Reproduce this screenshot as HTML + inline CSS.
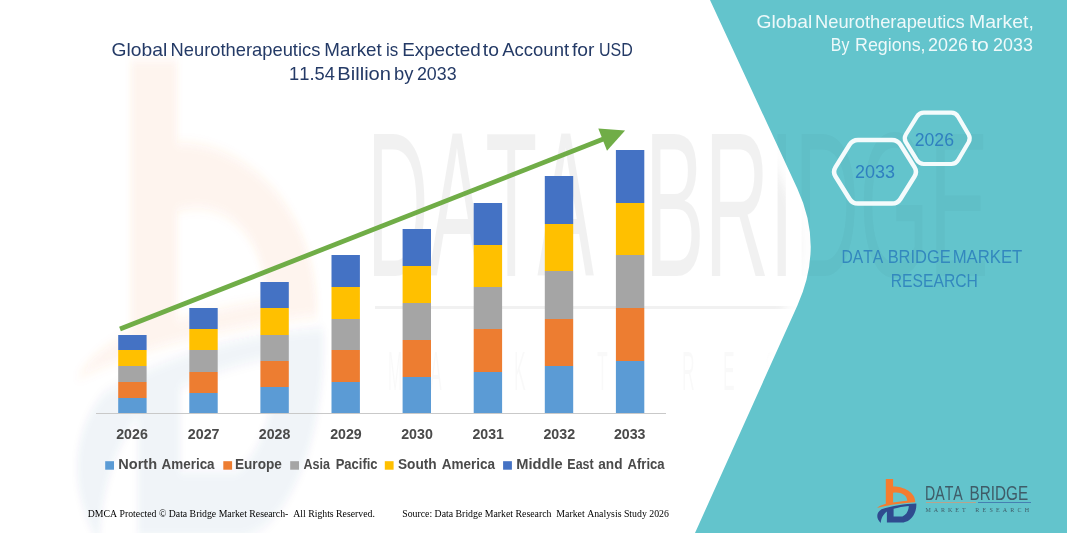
<!DOCTYPE html>
<html lang="en">
<head>
<meta charset="utf-8">
<title>Global Neurotherapeutics Market</title>
<style>
  html,body{margin:0;padding:0;background:#fff;}
  body{width:1067px;height:533px;overflow:hidden;position:relative;font-family:"Liberation Sans",sans-serif;}
  svg{position:absolute;left:0;top:0;display:block;}
  text{font-kerning:none;}
  .t{font-family:"Liberation Sans",sans-serif;}
  .b{font-family:"Liberation Sans",sans-serif;font-weight:bold;}
  .s{font-family:"Liberation Serif",serif;}
</style>
</head>
<body>
<svg width="1067" height="533" viewBox="0 0 1067 533">
  <defs>
            <clipPath id="tealclip"><path d="M710,0 L1067,0 L1067,533 L695,533 L797.4,305.4 Q824,246.3 797.4,188.8 Z"/></clipPath>
    <filter id="glow" x="-30%" y="-10%" width="160%" height="120%"><feGaussianBlur stdDeviation="5"/></filter>
    <filter id="blur" x="-10%" y="-10%" width="120%" height="120%"><feGaussianBlur stdDeviation="0.5"/></filter>
  </defs>

  <rect width="1067" height="533" fill="#ffffff"/>

  <!-- faint watermark logo (left) -->
  <g transform="translate(-5449.5,-5209) scale(6.3,11)" filter="url(#blur)">
    <path d="M885.8,479 L893.1,479 L893.1,486.5 C903,486.3 915.5,492 915.3,502.3 C905,503 890,504.5 877,508 C880,505.5 883,504.6 885.8,503.8 Z M893.1,492.8 L893.1,502.6 C898,501.8 903,501.2 907.3,500.8 C907,494.5 900,491.5 893.1,492.8 Z" fill-rule="evenodd" fill="#F47C30" opacity="0.085"/>
    <path d="M916.3,503.4 C917,513 911,521.5 903.5,522.4 L886.9,522.4 L886.9,511.5 C883.5,514 881,518 880.8,523 C875.5,518 876.5,512.5 881.5,509.3 C892,505.5 905,503.8 916.3,503.4 Z M893.6,508.8 L893.6,516.4 L902.4,516.4 C906.5,515 908.6,510.5 908.8,506 C903.5,506.5 898,507.5 893.6,508.8 Z" fill-rule="evenodd" fill="#2F4B8F" opacity="0.06"/>
  </g>

  <!-- faint watermark text (under teal) -->
  <g opacity="0.05" fill="#000">
    <text class="t" x="367.01" y="275.5" font-size="206" textLength="227.15" lengthAdjust="spacingAndGlyphs">DATA</text>
    <text class="t" x="644.64" y="275.5" font-size="206" textLength="344.22" lengthAdjust="spacingAndGlyphs">BRIDGE</text>
    <rect x="375" y="306" width="610" height="3"/>
  </g>
  <g opacity="0.02" fill="#000">
    <text class="t" transform="scale(0.32,1)" x="1212 1344 1475 1606 1738 1866 2000 2131 2259 2391 2519 2650 2781 2909 3041" y="390" font-size="55">MARKET RESEARCH</text>
  </g>

  <!-- soft white glow along teal edge -->
  <path d="M710,0 L797.4,188.8 Q824,246.3 797.4,305.4 L695,533" fill="none" stroke="#fff" stroke-width="22" filter="url(#glow)" opacity="0.9"/>

  <!-- teal panel -->
  <path id="teal" d="M710,0 L1067,0 L1067,533 L695,533 L797.4,305.4 Q824,246.3 797.4,188.8 Z" fill="#63C4CC"/>
  <g opacity="0.022" fill="#000" clip-path="url(#tealclip)">
    <text class="t" x="644.64" y="275.5" font-size="206" textLength="344.22" lengthAdjust="spacingAndGlyphs">BRIDGE</text>
  </g>

  <!-- title -->
  <g fill="#243A66">
    <text class="t" x="111.53" y="56.2" font-size="18.4" textLength="55.66" lengthAdjust="spacingAndGlyphs">Global</text>
    <text class="t" x="170.6" y="56.2" font-size="18.4" textLength="149.77" lengthAdjust="spacingAndGlyphs">Neurotherapeutics</text>
    <text class="t" x="324.36" y="56.2" font-size="18.4" textLength="57.38" lengthAdjust="spacingAndGlyphs">Market</text>
    <text class="t" x="386.07" y="56.2" font-size="18.4" textLength="12.25" lengthAdjust="spacingAndGlyphs">is</text>
    <text class="t" x="402.15" y="56.2" font-size="18.4" textLength="78.56" lengthAdjust="spacingAndGlyphs">Expected</text>
    <text class="t" x="482.81" y="56.2" font-size="18.4" textLength="16.1" lengthAdjust="spacingAndGlyphs">to</text>
    <text class="t" x="502.16" y="56.2" font-size="18.4" textLength="66.97" lengthAdjust="spacingAndGlyphs">Account</text>
    <text class="t" x="571.93" y="56.2" font-size="18.4" textLength="22.49" lengthAdjust="spacingAndGlyphs">for</text>
    <text class="t" x="599.06" y="56.2" font-size="18.4" textLength="33.8" lengthAdjust="spacingAndGlyphs">USD</text>
    <text class="t" x="289.1" y="79.9" font-size="18.4" textLength="45.83" lengthAdjust="spacingAndGlyphs">11.54</text>
    <text class="t" x="337.35" y="79.9" font-size="18.4" textLength="53.66" lengthAdjust="spacingAndGlyphs">Billion</text>
    <text class="t" x="394.11" y="79.9" font-size="18.4" textLength="19.42" lengthAdjust="spacingAndGlyphs">by</text>
    <text class="t" x="416.9" y="79.9" font-size="18.4" textLength="39.68" lengthAdjust="spacingAndGlyphs">2033</text>
  </g>

  <!-- axis line -->
  <rect x="96" y="413" width="570" height="1" fill="#C9C9C9"/>

  <!-- bars -->
  <g>
    <rect x="118.2" y="335" width="28.4" height="15" fill="#4472C4"/>
    <rect x="118.2" y="350" width="28.4" height="16" fill="#FFC000"/>
    <rect x="118.2" y="366" width="28.4" height="16" fill="#A5A5A5"/>
    <rect x="118.2" y="382" width="28.4" height="16" fill="#ED7D31"/>
    <rect x="118.2" y="398" width="28.4" height="15" fill="#5B9BD5"/>
    <rect x="189.3" y="308" width="28.4" height="21" fill="#4472C4"/>
    <rect x="189.3" y="329" width="28.4" height="21" fill="#FFC000"/>
    <rect x="189.3" y="350" width="28.4" height="22" fill="#A5A5A5"/>
    <rect x="189.3" y="372" width="28.4" height="21" fill="#ED7D31"/>
    <rect x="189.3" y="393" width="28.4" height="20" fill="#5B9BD5"/>
    <rect x="260.4" y="282" width="28.4" height="26" fill="#4472C4"/>
    <rect x="260.4" y="308" width="28.4" height="27" fill="#FFC000"/>
    <rect x="260.4" y="335" width="28.4" height="26" fill="#A5A5A5"/>
    <rect x="260.4" y="361" width="28.4" height="26" fill="#ED7D31"/>
    <rect x="260.4" y="387" width="28.4" height="26" fill="#5B9BD5"/>
    <rect x="331.5" y="255" width="28.4" height="32" fill="#4472C4"/>
    <rect x="331.5" y="287" width="28.4" height="32" fill="#FFC000"/>
    <rect x="331.5" y="319" width="28.4" height="31" fill="#A5A5A5"/>
    <rect x="331.5" y="350" width="28.4" height="32" fill="#ED7D31"/>
    <rect x="331.5" y="382" width="28.4" height="31" fill="#5B9BD5"/>
    <rect x="402.6" y="229" width="28.4" height="37" fill="#4472C4"/>
    <rect x="402.6" y="266" width="28.4" height="37" fill="#FFC000"/>
    <rect x="402.6" y="303" width="28.4" height="37" fill="#A5A5A5"/>
    <rect x="402.6" y="340" width="28.4" height="37" fill="#ED7D31"/>
    <rect x="402.6" y="377" width="28.4" height="36" fill="#5B9BD5"/>
    <rect x="473.7" y="203" width="28.4" height="42" fill="#4472C4"/>
    <rect x="473.7" y="245" width="28.4" height="42" fill="#FFC000"/>
    <rect x="473.7" y="287" width="28.4" height="42" fill="#A5A5A5"/>
    <rect x="473.7" y="329" width="28.4" height="43" fill="#ED7D31"/>
    <rect x="473.7" y="372" width="28.4" height="41" fill="#5B9BD5"/>
    <rect x="544.8" y="176" width="28.4" height="48" fill="#4472C4"/>
    <rect x="544.8" y="224" width="28.4" height="47" fill="#FFC000"/>
    <rect x="544.8" y="271" width="28.4" height="48" fill="#A5A5A5"/>
    <rect x="544.8" y="319" width="28.4" height="47" fill="#ED7D31"/>
    <rect x="544.8" y="366" width="28.4" height="47" fill="#5B9BD5"/>
    <rect x="615.9" y="150" width="28.4" height="53" fill="#4472C4"/>
    <rect x="615.9" y="203" width="28.4" height="52" fill="#FFC000"/>
    <rect x="615.9" y="255" width="28.4" height="53" fill="#A5A5A5"/>
    <rect x="615.9" y="308" width="28.4" height="53" fill="#ED7D31"/>
    <rect x="615.9" y="361" width="28.4" height="52" fill="#5B9BD5"/>
  </g>

  <!-- trend arrow -->
  <line x1="120" y1="329" x2="604" y2="138.8" stroke="#70AD47" stroke-width="4.8"/>
  <polygon points="625.1,130.5 598.3,128.4 607,150.7" fill="#70AD47"/>

  <!-- x labels -->
  <g fill="#4A4A4A">
    <text class="b" x="116.21" y="439.0" font-size="14.8" textLength="31.61" lengthAdjust="spacingAndGlyphs">2026</text>
    <text class="b" x="187.81" y="439.0" font-size="14.8" textLength="31.72" lengthAdjust="spacingAndGlyphs">2027</text>
    <text class="b" x="258.86" y="439.0" font-size="14.8" textLength="31.53" lengthAdjust="spacingAndGlyphs">2028</text>
    <text class="b" x="330.16" y="439.0" font-size="14.8" textLength="31.62" lengthAdjust="spacingAndGlyphs">2029</text>
    <text class="b" x="401.16" y="439.0" font-size="14.8" textLength="31.68" lengthAdjust="spacingAndGlyphs">2030</text>
    <text class="b" x="472.46" y="439.0" font-size="14.8" textLength="31.48" lengthAdjust="spacingAndGlyphs">2031</text>
    <text class="b" x="543.46" y="439.0" font-size="14.8" textLength="31.66" lengthAdjust="spacingAndGlyphs">2032</text>
    <text class="b" x="613.91" y="439.0" font-size="14.8" textLength="31.61" lengthAdjust="spacingAndGlyphs">2033</text>
  </g>

  <!-- legend -->
  <g fill="#4A4A4A">
    <rect x="105.2" y="461.2" width="8.8" height="8.5" fill="#5B9BD5"/>
    <rect x="223.3" y="461.2" width="8.8" height="8.5" fill="#ED7D31"/>
    <rect x="290.2" y="461.2" width="8.8" height="8.5" fill="#A5A5A5"/>
    <rect x="384.8" y="461.2" width="8.8" height="8.5" fill="#FFC000"/>
    <rect x="503.1" y="461.2" width="8.8" height="8.5" fill="#4472C4"/>
    <text class="b" x="118.33" y="468.8" font-size="13.8" textLength="38.77" lengthAdjust="spacingAndGlyphs">North</text>
    <text class="b" x="161.57" y="468.8" font-size="13.8" textLength="53.05" lengthAdjust="spacingAndGlyphs">America</text>
    <text class="b" x="234.99" y="468.8" font-size="13.8" textLength="46.88" lengthAdjust="spacingAndGlyphs">Europe</text>
    <text class="b" x="303.39" y="468.8" font-size="13.8" textLength="26.53" lengthAdjust="spacingAndGlyphs">Asia</text>
    <text class="b" x="335.63" y="468.8" font-size="13.8" textLength="41.95" lengthAdjust="spacingAndGlyphs">Pacific</text>
    <text class="b" x="398.01" y="468.8" font-size="13.8" textLength="38.74" lengthAdjust="spacingAndGlyphs">South</text>
    <text class="b" x="441.76" y="468.8" font-size="13.8" textLength="53.35" lengthAdjust="spacingAndGlyphs">America</text>
    <text class="b" x="516.22" y="468.8" font-size="13.8" textLength="46.48" lengthAdjust="spacingAndGlyphs">Middle</text>
    <text class="b" x="567.37" y="468.8" font-size="13.8" textLength="26.28" lengthAdjust="spacingAndGlyphs">East</text>
    <text class="b" x="598.3" y="468.8" font-size="13.8" textLength="24.2" lengthAdjust="spacingAndGlyphs">and</text>
    <text class="b" x="627.47" y="468.8" font-size="13.8" textLength="37.14" lengthAdjust="spacingAndGlyphs">Africa</text>
  </g>

  <!-- footer -->
  <g class="s" font-size="10" fill="#000">
    <text x="87.8" y="517.4" textLength="287.1" lengthAdjust="spacingAndGlyphs" xml:space="preserve">DMCA Protected © Data Bridge Market Research-  All Rights Reserved.</text>
    <text x="402.2" y="517.4" textLength="266.7" lengthAdjust="spacingAndGlyphs" xml:space="preserve">Source: Data Bridge Market Research  Market Analysis Study 2026</text>
  </g>

  <!-- right panel heading -->
  <g fill="#EEF9FA">
    <text class="t" x="756.53" y="27.5" font-size="18.4" textLength="55.66" lengthAdjust="spacingAndGlyphs">Global</text>
    <text class="t" x="815.0" y="27.5" font-size="18.4" textLength="149.66" lengthAdjust="spacingAndGlyphs">Neurotherapeutics</text>
    <text class="t" x="969.0" y="27.5" font-size="18.4" textLength="64.84" lengthAdjust="spacingAndGlyphs">Market,</text>
    <text class="t" x="830.8" y="51.0" font-size="18.4" textLength="18.53" lengthAdjust="spacingAndGlyphs">By</text>
    <text class="t" x="855.03" y="51.0" font-size="18.4" textLength="70.57" lengthAdjust="spacingAndGlyphs">Regions,</text>
    <text class="t" x="928.1" y="51.0" font-size="18.4" textLength="39.89" lengthAdjust="spacingAndGlyphs">2026</text>
    <text class="t" x="971.18" y="51.0" font-size="18.4" textLength="17.71" lengthAdjust="spacingAndGlyphs">to</text>
    <text class="t" x="993.1" y="51.0" font-size="18.4" textLength="39.79" lengthAdjust="spacingAndGlyphs">2033</text>
  </g>

  <!-- hexagons -->
  <g fill="none" stroke="#F4FBFC" stroke-width="4.2" stroke-linejoin="round">
    <path d="M835.52,176.46 Q832.60,171.80 835.52,167.14 L849.58,144.66 Q852.50,140.00 858.00,140.00 L892.00,140.00 Q897.50,140.00 900.42,144.66 L914.48,167.14 Q917.40,171.80 914.48,176.46 L900.42,198.94 Q897.50,203.60 892.00,203.60 L858.00,203.60 Q852.50,203.60 849.58,198.94 Z" stroke-width="4.5"/>
    <path d="M905.86,142.18 Q903.50,138.35 905.86,134.52 L916.94,116.53 Q919.30,112.70 923.80,112.70 L951.30,112.70 Q955.80,112.70 958.08,116.58 L968.62,134.47 Q970.90,138.35 968.62,142.23 L958.08,160.12 Q955.80,164.00 951.30,164.00 L923.80,164.00 Q919.30,164.00 916.94,160.17 Z"/>
  </g>
  <g fill="#2F80C0">
    <text class="t" x="855.1" y="177.6" font-size="18.4" textLength="39.99" lengthAdjust="spacingAndGlyphs">2033</text>
    <text class="t" x="914.71" y="145.7" font-size="18.4" textLength="39.26" lengthAdjust="spacingAndGlyphs">2026</text>
  </g>

  <!-- DBMR label -->
  <g fill="#3388BE">
    <text class="t" x="841.52" y="262.6" font-size="18.4" textLength="41.61" lengthAdjust="spacingAndGlyphs">DATA</text>
    <text class="t" x="887.65" y="262.6" font-size="18.4" textLength="63.06" lengthAdjust="spacingAndGlyphs">BRIDGE</text>
    <text class="t" x="952.63" y="262.6" font-size="18.4" textLength="69.65" lengthAdjust="spacingAndGlyphs">MARKET</text>
    <text class="t" x="890.71" y="286.6" font-size="18.4" textLength="87.17" lengthAdjust="spacingAndGlyphs">RESEARCH</text>
  </g>

  <!-- logo bottom right -->
  <path d="M885.8,479 L893.1,479 L893.1,486.5 C903,486.3 915.5,492 915.3,502.3 C905,503 890,504.5 877,508 C880,505.5 883,504.6 885.8,503.8 Z M893.1,492.8 L893.1,502.6 C898,501.8 903,501.2 907.3,500.8 C907,494.5 900,491.5 893.1,492.8 Z" fill-rule="evenodd" fill="#F47C30"/>
  <path d="M916.3,503.4 C917,513 911,521.5 903.5,522.4 L886.9,522.4 L886.9,511.5 C883.5,514 881,518 880.8,523 C875.5,518 876.5,512.5 881.5,509.3 C892,505.5 905,503.8 916.3,503.4 Z M893.6,508.8 L893.6,516.4 L902.4,516.4 C906.5,515 908.6,510.5 908.8,506 C903.5,506.5 898,507.5 893.6,508.8 Z" fill-rule="evenodd" fill="#2F4B8F"/>
  <g>
    <text class="t" x="925.04" y="499.6" font-size="19.5" textLength="37.69" lengthAdjust="spacingAndGlyphs" fill="#3F5C68">DATA</text>
    <text class="t" x="969.55" y="499.6" font-size="19.5" textLength="58.51" lengthAdjust="spacingAndGlyphs" fill="#3F5C68">BRIDGE</text>
    <rect x="926" y="502" width="50" height="1" fill="#B9A48C"/>
    <rect x="978" y="502" width="53" height="1" fill="#4580B2"/>
    <text class="s" x="925.4" y="511.5" font-size="6" textLength="40.3" lengthAdjust="spacing" fill="#3F5C68">MARKET</text>
    <text class="s" x="975.3" y="511.5" font-size="6" textLength="53.8" lengthAdjust="spacing" fill="#3F5C68">RESEARCH</text>
  </g>
</svg>
</body>
</html>
